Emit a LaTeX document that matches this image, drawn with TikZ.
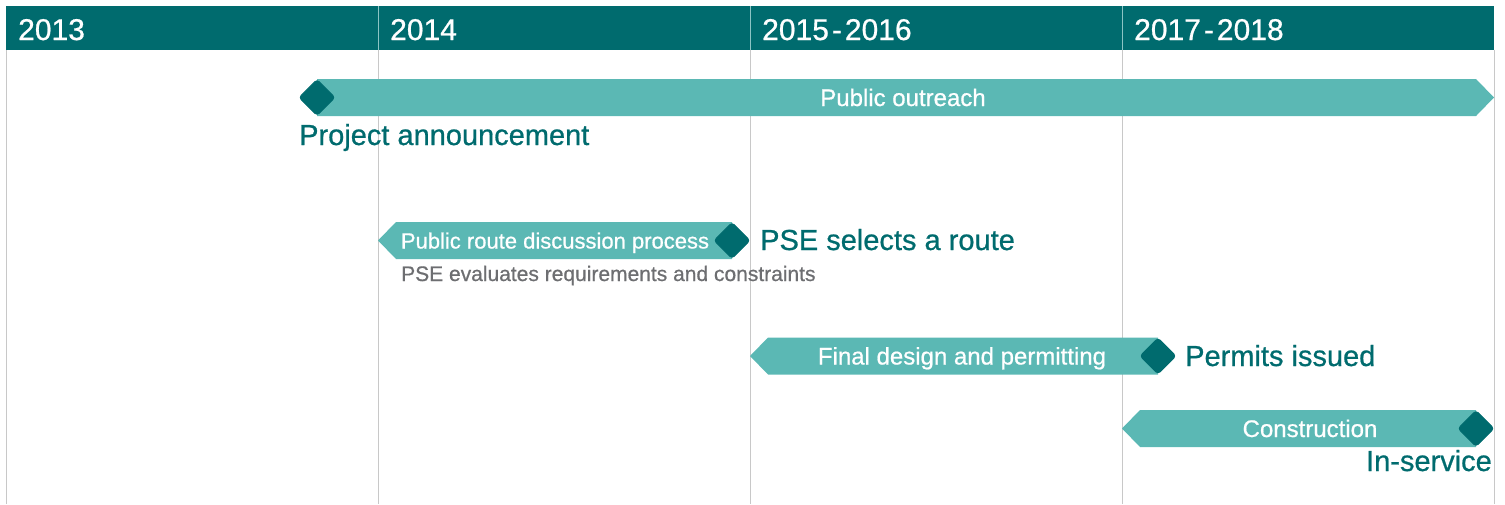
\documentclass[tikz,border=0pt]{standalone}
\usepackage{fontspec}
\setmainfont[FakeBold=0.7]{Liberation Sans}
\definecolor{hdr}{HTML}{006B6E}
\definecolor{barc}{HTML}{5BB8B4}
\definecolor{gridc}{HTML}{C8C8C8}
\definecolor{grayt}{HTML}{6D6E71}
\definecolor{hdrline}{HTML}{8CC4C4}
\tikzset{
  bar/.style={fill=barc, draw=none},
  milestone/.style={fill=hdr, draw=hdr, line width=0.8pt, rounded corners=3pt},
  yeartext/.style={text=white, font=\fontsize{30}{32}\selectfont, anchor=base west, inner sep=0pt},
  bartext/.style={text=white, font=\fontsize{24}{26}\selectfont, anchor=base, inner sep=0pt},
  mstext/.style={text=hdr, font=\fontsize{29}{31}\selectfont, inner sep=0pt},
  notetext/.style={text=grayt, font=\fontsize{21}{23}\selectfont, anchor=base west, inner sep=0pt},
  gridline/.style={draw=gridc, line width=1pt},
}
\newcommand{\msdiamond}[2]{%
  \draw[milestone] (#1-18,#2) -- (#1,#2-18) -- (#1+18,#2) -- (#1,#2+18) -- cycle;}
\begin{document}
\begin{tikzpicture}[x=1pt,y=-1pt]
\useasboundingbox (0,0) rectangle (1505,504);
% header band
\fill[hdr] (6,6) rectangle (1494,50);
\foreach \xx in {378,750,1122}{
  \draw[hdrline, line width=1pt] (\xx,6) -- (\xx,50);
  \draw[gridline] (\xx,50) -- (\xx,504);
}
\draw[gridline] (6,50) -- (6,504);
\draw[gridline] (1494,50) -- (1494,504);
\node[yeartext] (y13) at (18,40) {2013};
\node[yeartext] (y14) at (390,40) {2014};
\node[yeartext] (y15) at (762,40) {2015\kern3pt-\kern3pt2016};
\node[yeartext] (y17) at (1134,40) {2017\kern3pt-\kern3pt2018};
% public outreach
\fill[bar] (317,79) -- (1476,79) -- (1494,97.5) -- (1476,116) -- (317,116) -- cycle;
\msdiamond{317}{97.5}
\node[bartext] (outreach) at (903,106) {Public outreach};
\node[mstext, anchor=base west] (announce) at (299,145) {Project announcement};
% public route discussion
\fill[bar] (378,240.5) -- (396,222) -- (732,222) -- (732,259) -- (396,259) -- cycle;
\msdiamond{732}{240.5}
\node[bartext, font=\fontsize{22}{24}\selectfont] (route) at (555,248.5) {Public route discussion process};
\node[mstext, anchor=base west] (select) at (760,250) {PSE selects a route};
\node[notetext] (evaluate) at (401,281) {PSE evaluates requirements and constraints};
% final design
\fill[bar] (750,356) -- (768,337.5) -- (1158,337.5) -- (1158,374.5) -- (768,374.5) -- cycle;
\msdiamond{1158}{356}
\node[bartext] (design) at (962,364.5) {Final design and permitting};
\node[mstext, anchor=base west] (permits) at (1185,366) {Permits issued};
% construction
\fill[bar] (1122,428.5) -- (1140,410) -- (1476,410) -- (1476,447) -- (1140,447) -- cycle;
\msdiamond{1476}{428.5}
\node[bartext] (construct) at (1310,437) {Construction};
\node[mstext, anchor=base east] (inservice) at (1492,471) {In-service};
\end{tikzpicture}
\end{document}
